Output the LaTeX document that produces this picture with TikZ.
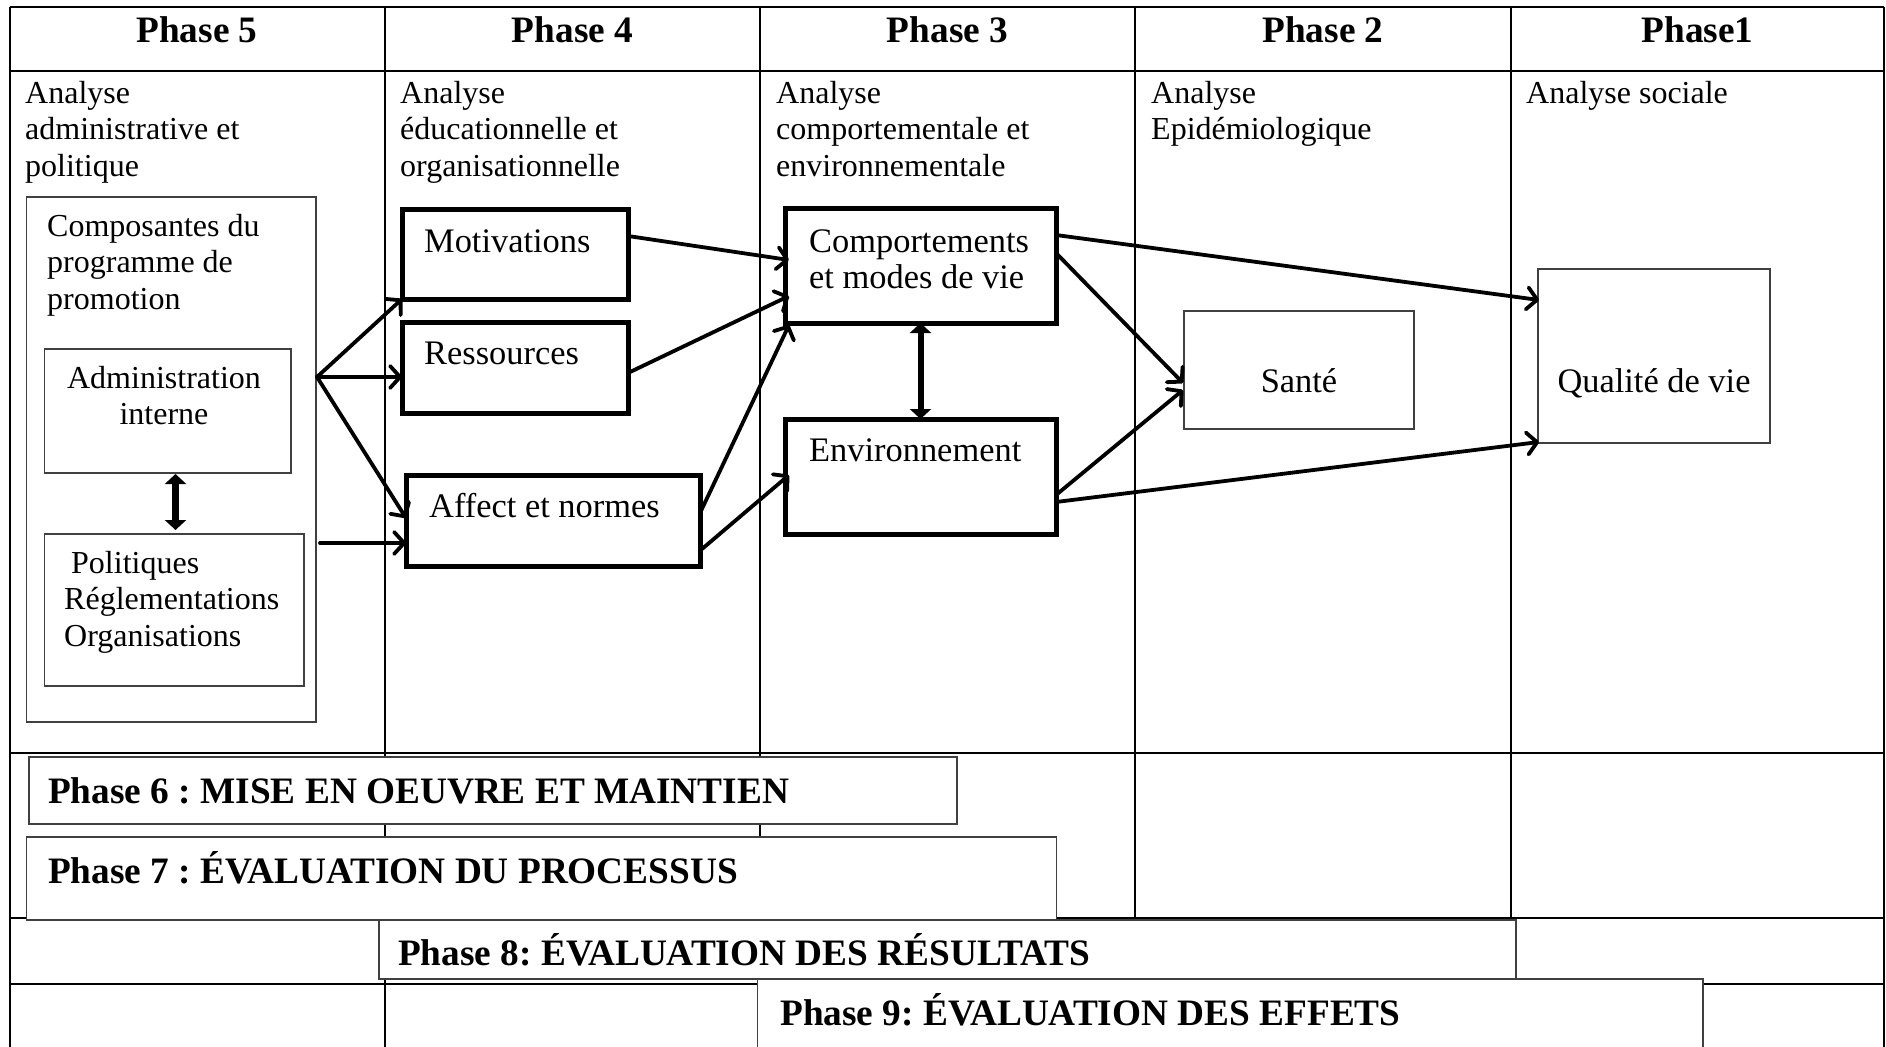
\documentclass[tikz,border=0pt]{standalone}
\usepackage{fontspec}
\setmainfont{Liberation Serif}
\frenchspacing
\usetikzlibrary{arrows.meta,calc}
\newcommand{\Lstack}[1]{\vtop{\halign{##\hfil\cr#1\crcr}}}
\newcommand{\Cstack}[1]{\vtop{\halign{\hfil##\hfil\cr#1\crcr}}}
\tikzset{
  gridh/.style={line width=2.2pt},
  gridv/.style={line width=1.4pt},
  thinbox/.style={draw=black!75, line width=1.3pt, inner sep=0pt, outer sep=0pt, anchor=north west},
  thickbox/.style={draw=black, line width=5pt, inner sep=0pt, outer sep=0pt, anchor=north west},
  phasebox/.style={draw=black!75, line width=1.5pt, fill=white, inner sep=0pt, outer sep=0pt, anchor=north west},
  arr/.style={line width=3.8pt, line cap=round, -{Straight Barb[length=10pt,width=22pt,round]}},
  dblarr/.style={line width=7pt, {Triangle[length=10pt,width=21pt]}-{Triangle[length=10pt,width=21pt]}},
  body/.style={font=\fontsize{32}{36.7}\selectfont, inner sep=0pt},
  boxtxt/.style={font=\fontsize{34.4}{36}\selectfont, inner sep=0pt},
  head/.style={font=\fontsize{37.3}{44}\selectfont\bfseries, inner sep=0pt},
}
\begin{document}
\begin{tikzpicture}[x=1pt,y=-1pt]
\clip (0,0) rectangle (1886,1046);
\fill[white] (0,0) rectangle (1886,1046);
% table grid
\draw[gridh] (9.6,7) -- (1884,7);
\draw[gridh] (9.6,7) -- (9.6,1060);
\draw[gridh] (1884,7) -- (1884,1060);
\foreach \yy in {71,753,918,984} \draw[gridh] (9.6,\yy) -- (1884,\yy);
\foreach \xx in {385,760,1135,1511} \draw[gridv] (\xx,7) -- (\xx,1060);
% headers
\node[head, anchor=base] (h5) at (197,43) {Phase 5};
\node[head, anchor=base] (h4) at (572.5,43) {Phase 4};
\node[head, anchor=base] (h3) at (947.5,43) {Phase 3};
\node[head, anchor=base] (h2) at (1323,43) {Phase 2};
\node[head, anchor=base] (h1) at (1697.5,43) {Phase1};
% column subtitles
\node[body, anchor=base west] (s5) at (25,103) {\Lstack{Analyse\cr administrative et\cr politique}};
\node[body, anchor=base west] (s4) at (400,103) {\Lstack{Analyse\cr éducationnelle et\cr organisationnelle}};
\node[body, anchor=base west] (s3) at (776,103) {\Lstack{Analyse\cr comportementale et\cr environnementale}};
\node[body, anchor=base west] (s2) at (1151,103) {\Lstack{Analyse\cr Epidémiologique}};
\node[body, anchor=base west] (s1) at (1526,103) {Analyse sociale};
% phase 5 boxes
\node[thinbox, minimum width=289.5pt, minimum height=525pt] (compo) at (26.5,197) {};
\node[body, anchor=base west] (compot) at (47,236) {\Lstack{Composantes du\cr programme de\cr promotion}};
\node[thinbox, minimum width=246.5pt, minimum height=124pt] (admin) at (44.5,349) {};
\node[body, anchor=base] (admint) at (164,388) {\Cstack{Administration\cr interne}};
\node[thinbox, minimum width=259.5pt, minimum height=152pt] (polit) at (44.5,534) {};
\node[body, anchor=base west] (politt) at (64,573) {\Lstack{\hspace*{7pt}Politiques\cr Réglementations\cr Organisations}};
% phase 4 boxes
\node[thickbox, minimum width=226pt, minimum height=90pt] (mot) at (402,209) {};
\node[boxtxt, anchor=base west] (mott) at (424,252) {Motivations};
\node[thickbox, minimum width=226pt, minimum height=91pt] (res) at (402,322) {};
\node[boxtxt, anchor=base west] (rest) at (424,364) {Ressources};
\node[thickbox, minimum width=294pt, minimum height=91pt] (aff) at (406,475) {};
\node[boxtxt, anchor=base west] (afft) at (429,517) {Affect et normes};
% phase 3 boxes
\node[thickbox, minimum width=271pt, minimum height=115pt] (comp) at (785,208) {};
\node[boxtxt, anchor=base west] (compt) at (809,252) {\Lstack{Comportements\cr et modes de vie}};
\node[thickbox, minimum width=271pt, minimum height=115pt] (env) at (785,419) {};
\node[boxtxt, anchor=base west] (envt) at (809,461) {Environnement};
% phase 2 and 1 boxes
\node[thinbox, minimum width=230pt, minimum height=118pt] (sante) at (1184,311) {};
\node[boxtxt, anchor=base] (santet) at (1299,392) {Santé};
\node[thinbox, minimum width=232pt, minimum height=174pt] (qual) at (1538,269) {};
\node[boxtxt, anchor=base] (qualt) at (1654,392) {Qualité de vie};
% arrows
\draw[arr] ($(compo.north east)+(1,180)$) -- (mot.south west);
\draw[arr] ($(compo.north east)+(1,180)$) -- ($(res.north west)+(0,55)$);
\draw[arr] ($(compo.north east)+(1,180)$) -- ($(aff.north west)+(0,43)$);
\draw[arr] ($(polit.north east)+(16,9)$) -- ($(aff.north west)+(0,68)$);
\draw[arr] ($(mot.north east)+(0,27)$) -- ($(comp.north west)+(4,52)$);
\draw[arr] ($(res.north east)+(0,51)$) -- ($(comp.north west)+(4,88)$);
\draw[arr] ($(aff.north east)+(0,38)$) -- ($(comp.south west)+(4,2)$);
\draw[arr] ($(aff.north east)+(2,74)$) -- ($(env.north west)+(4,56)$);
\draw[arr] ($(comp.north east)+(0,27)$) -- ($(qual.north west)+(1,31)$);
\draw[arr] ($(comp.north east)+(0,45)$) -- ($(sante.north west)+(-1,72)$);
\draw[arr] ($(env.north east)+(0,76)$) -- ($(sante.north west)+(-1,79)$);
\draw[arr] ($(env.north east)+(0,83)$) -- ($(qual.north west)+(1,173)$);
\draw[dblarr] ($(admin.south west)+(131,1)$) -- ($(polit.north west)+(131,-4)$);
\draw[dblarr, line width=6pt] (comp.south) -- (env.north);
% bottom phases
\node[phasebox, minimum width=928pt, minimum height=67pt] (p6) at (29,757) {};
\node[head, anchor=base west] (p6t) at (48,803) {Phase 6 : MISE EN OEUVRE ET MAINTIEN};
\node[phasebox, minimum width=1030pt, minimum height=83pt] (p7) at (26.5,837) {};
\node[head, anchor=base west] (p7t) at (48,883) {Phase 7 : ÉVALUATION DU PROCESSUS};
\node[phasebox, minimum width=1137pt, minimum height=59pt] (p8) at (379,920) {};
\node[head, anchor=base west] (p8t) at (398,965) {Phase 8: ÉVALUATION DES RÉSULTATS};
\node[phasebox, minimum width=945.5pt, minimum height=90pt] (p9) at (757.5,979) {};
\node[head, anchor=base west] (p9t) at (780,1025) {Phase 9: ÉVALUATION DES EFFETS};
\end{tikzpicture}
\end{document}
